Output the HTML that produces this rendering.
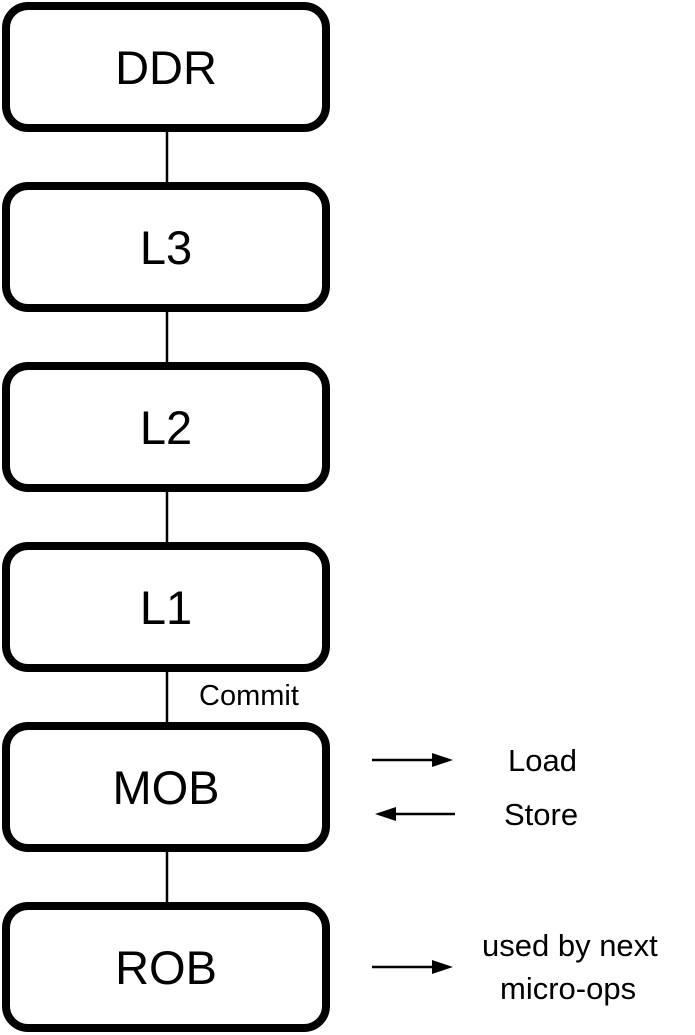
<!DOCTYPE html>
<html><head><style>
body{margin:0;width:695px;height:1035px;background:#fff;position:relative;font-family:"Liberation Sans",sans-serif;overflow:hidden}
.b{position:absolute;left:2px;width:312px;height:114px;border:8px solid #000;border-radius:26px;display:flex;align-items:center;justify-content:center;font-size:47px;color:#000}
.t{position:absolute;font-size:31px;color:#000;white-space:nowrap;line-height:1}
</style></head><body>
<svg width="695" height="1035" style="position:absolute;left:0;top:0">
<g stroke="#000" stroke-width="2.5">
<line x1="167" y1="130" x2="167" y2="185"/>
<line x1="167" y1="310" x2="167" y2="365"/>
<line x1="167" y1="490" x2="167" y2="545"/>
<line x1="167" y1="670" x2="167" y2="725"/>
<line x1="167" y1="850" x2="167" y2="905"/>
<line x1="372" y1="760" x2="435" y2="760"/>
<line x1="393" y1="814" x2="455" y2="814"/>
<line x1="372" y1="967" x2="435" y2="967"/>
</g>
<polygon points="432,753 453,760 432,767"/>
<polygon points="396,807 375,814 396,821"/>
<polygon points="432,960 453,967 432,974"/>
</svg>
<div class="b" style="top:2px">DDR</div>
<div class="b" style="top:182px">L3</div>
<div class="b" style="top:362px">L2</div>
<div class="b" style="top:542px">L1</div>
<div class="b" style="top:722px">MOB</div>
<div class="b" style="top:902px">ROB</div>
<div class="t" style="left:199px;top:682px;font-size:29px">Commit</div>
<div class="t" style="left:508px;top:745px">Load</div>
<div class="t" style="left:504px;top:799px">Store</div>
<div class="t" style="left:482px;top:930px">used by next</div>
<div class="t" style="left:500px;top:973px">micro-ops</div>
</body></html>
